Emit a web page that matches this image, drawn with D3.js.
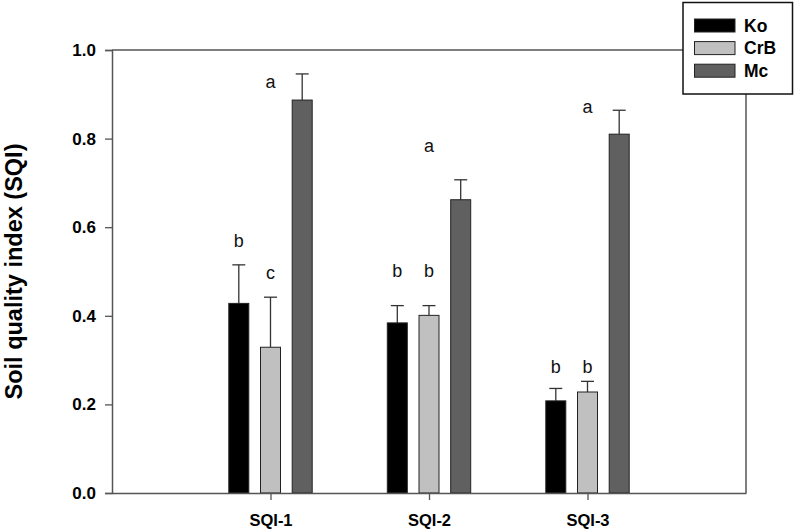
<!DOCTYPE html>
<html>
<head>
<meta charset="utf-8">
<script src="https://cdn.jsdelivr.net/npm/d3@7"></script>
<style>
  html, body { margin: 0; padding: 0; background: #fff; }
  svg { display: block; font-family: Arial, "Liberation Sans", sans-serif; }
</style>
</head>
<body>
<svg id="chart" width="795" height="529"></svg>
<script>
// ---- data ----
const categories = ["SQI-1", "SQI-2", "SQI-3"];
const seriesNames = ["Ko", "CrB", "Mc"];
const seriesColors = ["#000000", "#c0c0c0", "#606060"];
const koValues  = [0.428, 0.384, 0.208];
const crbValues = [0.329, 0.401, 0.228];
const mcValues  = [0.887, 0.662, 0.810];
const koErr  = [0.087, 0.039, 0.028];
const crbErr = [0.113, 0.022, 0.024];
const mcErr  = [0.059, 0.045, 0.054];
const koLetters  = ["b", "b", "b"];
const crbLetters = ["c", "b", "b"];
const mcLetters  = ["a", "a", "a"];
const koLetterY  = [0.556, 0.487, 0.271];
const crbLetterY = [0.483, 0.487, 0.271];
const mcLetterY  = [0.914, 0.770, 0.858];
const yTicks = [0.0, 0.2, 0.4, 0.6, 0.8, 1.0];

const values = [koValues, crbValues, mcValues];
const errs = [koErr, crbErr, mcErr];
const letters = [koLetters, crbLetters, mcLetters];
const letterY = [koLetterY, crbLetterY, mcLetterY];
// letter for Mc sits over the group centre (as in the original figure)
const letterSeriesPos = ["Ko", "CrB", "CrB"];

// ---- layout ----
const W = 795, H = 529;
const m = { left: 112, right: 49, top: 50, bottom: 36 };
const svg = d3.select("#chart");

const x = d3.scaleLinear().domain([0, categories.length + 1]).range([m.left, W - m.right]);
const y = d3.scaleLinear().domain([0, 1]).range([H - m.bottom, m.top]);
const inner = d3.scalePoint().domain(seriesNames).range([-31.7, 31.7]);
const barW = 20;

const rows = [];
categories.forEach((c, i) => {
  seriesNames.forEach((s, j) => {
    rows.push({ cat: c, ci: i, s, sj: j, v: values[j][i], e: errs[j][i],
                letter: letters[j][i], ly: letterY[j][i], lpos: letterSeriesPos[j] });
  });
});

// frame: top and right lines
svg.append("line").attr("x1", x(0)).attr("x2", x(4)).attr("y1", y(1)).attr("y2", y(1))
  .attr("stroke", "#555").attr("stroke-width", 1.5);
svg.append("line").attr("x1", x(4)).attr("x2", x(4)).attr("y1", y(1)).attr("y2", y(0))
  .attr("stroke", "#555").attr("stroke-width", 1.5);

// error bars
const eg = svg.append("g").attr("stroke", "#333").attr("stroke-width", 1.3);
rows.forEach(d => {
  const cx = x(d.ci + 1) + inner(d.s);
  eg.append("line").attr("x1", cx).attr("x2", cx).attr("y1", y(d.v)).attr("y2", y(d.v + d.e));
  eg.append("line").attr("x1", cx - 6.5).attr("x2", cx + 6.5).attr("y1", y(d.v + d.e)).attr("y2", y(d.v + d.e));
});

// bars
svg.append("g").selectAll("rect").data(rows).join("rect")
  .attr("x", d => x(d.ci + 1) + inner(d.s) - barW / 2)
  .attr("width", barW)
  .attr("y", d => y(d.v))
  .attr("height", d => y(0) - y(d.v))
  .attr("fill", d => seriesColors[d.sj])
  .attr("stroke", "#222")
  .attr("stroke-width", 1);

// significance letters
svg.append("g").selectAll("text").data(rows).join("text")
  .attr("x", d => x(d.ci + 1) + inner(d.lpos))
  .attr("y", d => y(d.ly))
  .attr("text-anchor", "middle")
  .attr("font-size", 18)
  .attr("fill", "#111")
  .text(d => d.letter);

// y axis
const yAxis = svg.append("g").attr("transform", `translate(${m.left},0)`)
  .call(d3.axisLeft(y).tickValues(yTicks).tickFormat(d3.format(".1f")).tickSize(7).tickPadding(9));
yAxis.select(".domain").attr("stroke", "#555").attr("stroke-width", 1.5);
yAxis.selectAll(".tick line").attr("stroke", "#555").attr("stroke-width", 1.3);
yAxis.selectAll(".tick text").attr("font-size", 17).attr("font-weight", "bold").attr("fill", "#000")
  .attr("font-family", "Arial, 'Liberation Sans', sans-serif");

// x axis
const xAxis = svg.append("g").attr("transform", `translate(0,${H - m.bottom})`)
  .call(d3.axisBottom(x).tickValues([1, 2, 3]).tickFormat(d => categories[d - 1]).tickSize(7).tickPadding(14).tickSizeOuter(0));
xAxis.select(".domain").attr("stroke", "#555").attr("stroke-width", 1.5);
xAxis.selectAll(".tick line").attr("stroke", "#555").attr("stroke-width", 1.3);
xAxis.selectAll(".tick text").attr("font-size", 16.5).attr("font-weight", "bold").attr("fill", "#000")
  .attr("font-family", "Arial, 'Liberation Sans', sans-serif");

// y title
svg.append("text")
  .attr("transform", `translate(22,${(y(0) + y(1)) / 2}) rotate(-90)`)
  .attr("text-anchor", "middle")
  .attr("font-size", 23.5)
  .attr("font-weight", "bold")
  .text("Soil quality index (SQI)");

// legend
const lg = svg.append("g");
lg.append("rect").attr("x", 683).attr("y", 2.5).attr("width", 109.5).attr("height", 91.5)
  .attr("fill", "#fff").attr("stroke", "#111").attr("stroke-width", 1.5);
seriesNames.forEach((s, j) => {
  const yy = 19 + j * 22.6;
  lg.append("rect").attr("x", 694.5).attr("y", yy).attr("width", 40.5).attr("height", 13)
    .attr("fill", seriesColors[j]).attr("stroke", "#222").attr("stroke-width", 1);
  lg.append("text").attr("x", 744).attr("y", yy + 12.5)
    .attr("font-size", 17.5).attr("font-weight", "bold").text(s);
});
</script>
</body>
</html>
